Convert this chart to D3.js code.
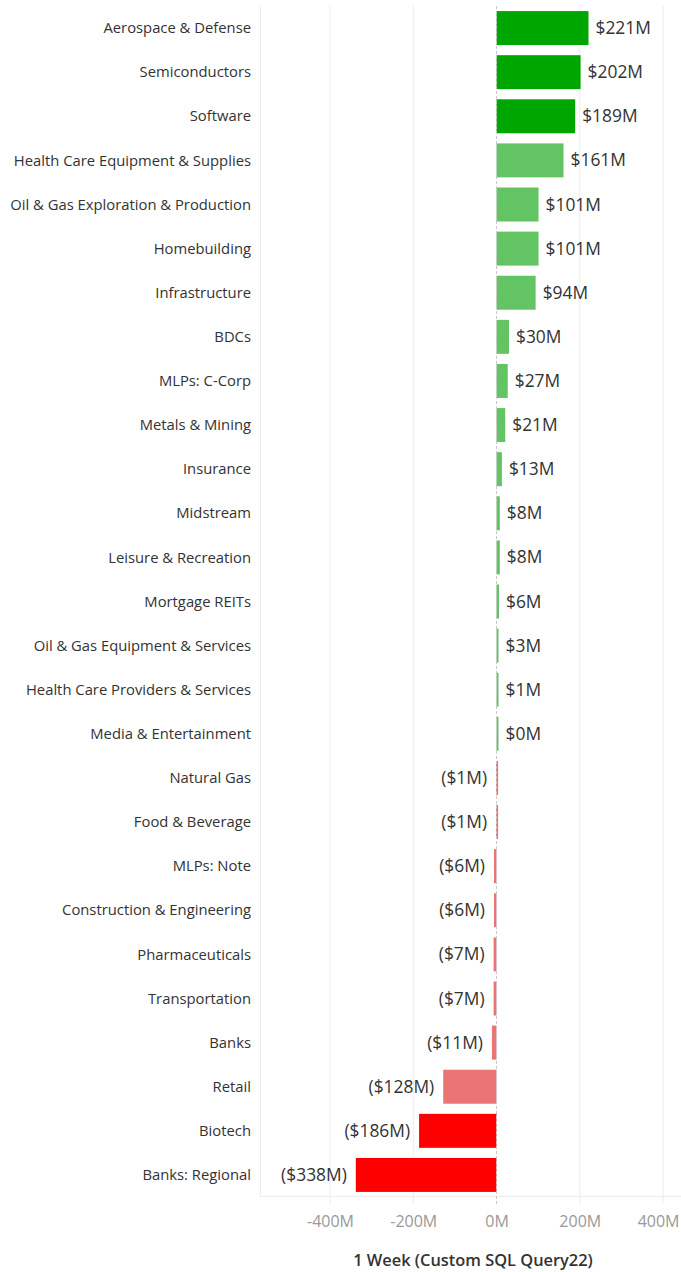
<!DOCTYPE html>
<html>
<head>
<meta charset="utf-8">
<script src="https://cdn.jsdelivr.net/npm/d3@7"></script>
<style>
  body { margin: 0; background: #fff; }
  svg { display: block; }
</style>
</head>
<body>
<svg id="chart" width="681" height="1272"></svg>
<script>
// categories, top to bottom
const categories = [
  "Aerospace & Defense", "Semiconductors", "Software", "Health Care Equipment & Supplies",
  "Oil & Gas Exploration & Production", "Homebuilding", "Infrastructure", "BDCs",
  "MLPs: C-Corp", "Metals & Mining", "Insurance", "Midstream", "Leisure & Recreation",
  "Mortgage REITs", "Oil & Gas Equipment & Services", "Health Care Providers & Services",
  "Media & Entertainment", "Natural Gas", "Food & Beverage", "MLPs: Note",
  "Construction & Engineering", "Pharmaceuticals", "Transportation", "Banks",
  "Retail", "Biotech", "Banks: Regional"
]
// 1 week flows, $M
const values = [
  221, 202, 189, 161, 101, 101, 94, 30, 27, 21, 13, 8, 8, 6, 3, 1, 0.4,
  -1, -1, -6, -6, -7, -7, -11, -128, -186, -338
]
const tick_values = [-400, -200, 0, 200, 400]

const width = 681
const pane_left = 260
const pane_top = 6
const pane_bottom = 1197

const svg = d3.select("#chart")

const x = d3.scaleLinear().domain([-400, 400]).range([330, 663])
const y = d3.scaleBand().domain(categories).range([pane_top, pane_bottom]).paddingInner(0.23).paddingOuter(0.115)

const bar_color = function (v) {
  if (v > 175) return "#00a600"
  if (v >= 0) return "#62c462"
  if (v < -150) return "#ff0000"
  return "#eb7474"
}

const fmt = function (v) {
  var r = Math.round(Math.abs(v))
  return v < 0 && r > 0 ? "($" + r + "M)" : "$" + r + "M"
}

// grid lines
svg.append("g").selectAll("line")
  .data(tick_values.filter(d => d != 0))
  .join("line")
  .attr("x1", d => x(d)).attr("x2", d => x(d))
  .attr("y1", pane_top).attr("y2", pane_bottom + 7)
  .attr("stroke", "#ececec").attr("stroke-width", 1)

// pane border left and bottom
svg.append("line")
  .attr("x1", pane_left + 0.5).attr("x2", pane_left + 0.5)
  .attr("y1", pane_top).attr("y2", pane_bottom)
  .attr("stroke", "#ececec")
svg.append("line")
  .attr("x1", pane_left).attr("x2", width)
  .attr("y1", pane_bottom - 0.5).attr("y2", pane_bottom - 0.5)
  .attr("stroke", "#ececec")

// bars
const rows = categories.map((c, i) => ({ name: c, value: values[i] }))

svg.append("g").selectAll("rect")
  .data(rows)
  .join("rect")
  .attr("x", d => Math.min(x(0), x(d.value)))
  .attr("y", d => y(d.name))
  .attr("width", d => Math.max(2, Math.abs(x(d.value) - x(0))))
  .attr("height", y.bandwidth())
  .attr("fill", d => bar_color(d.value))

// zero line, dashed
svg.append("line")
  .attr("x1", x(0)).attr("x2", x(0))
  .attr("y1", pane_top).attr("y2", pane_bottom + 7)
  .attr("stroke", "#c8c8c8").attr("stroke-dasharray", "3,2")

// category labels
svg.append("g").selectAll("text")
  .data(rows)
  .join("text")
  .attr("x", 251)
  .attr("y", d => y(d.name) + y.bandwidth() / 2)
  .attr("dy", "0.35em")
  .attr("text-anchor", "end")
  .style("font-family", "'Open Sans', sans-serif")
  .style("font-size", "14.8px")
  .attr("fill", "#333")
  .text(d => d.name)

// value labels
svg.append("g").selectAll("text")
  .data(rows)
  .join("text")
  .attr("x", d => d.value < 0 ? Math.min(x(0), x(d.value)) - 9 : Math.max(x(0) + 2, x(d.value)) + 7)
  .attr("y", d => y(d.name) + y.bandwidth() / 2)
  .attr("dy", "0.35em")
  .attr("text-anchor", d => d.value < 0 ? "end" : "start")
  .style("font-family", "'Open Sans', sans-serif")
  .style("font-size", "17.4px")
  .attr("fill", "#333")
  .text(d => fmt(d.value))

// x axis
const axis = svg.append("g")
  .attr("transform", "translate(0," + pane_bottom + ")")
  .call(d3.axisBottom(x).tickValues(tick_values).tickSize(0).tickPadding(19).tickFormat(d => d + "M"))
axis.select(".domain").remove()
axis.selectAll("text")
  .style("font-family", "'Open Sans', sans-serif")
  .style("font-size", "16px")
  .attr("fill", "#999")
// last tick label is pulled in to fit the edge
axis.selectAll(".tick").filter(d => d == 400).select("text")
  .attr("text-anchor", "end").attr("x", 679 - x(400))

// axis title
svg.append("text")
  .attr("x", 473)
  .attr("y", 1266)
  .attr("text-anchor", "middle")
  .style("font-family", "'Open Sans', sans-serif")
  .style("font-size", "16.4px")
  .style("font-weight", "600")
  .attr("fill", "#333")
  .text("1 Week (Custom SQL Query22)")
</script>
</body>
</html>
